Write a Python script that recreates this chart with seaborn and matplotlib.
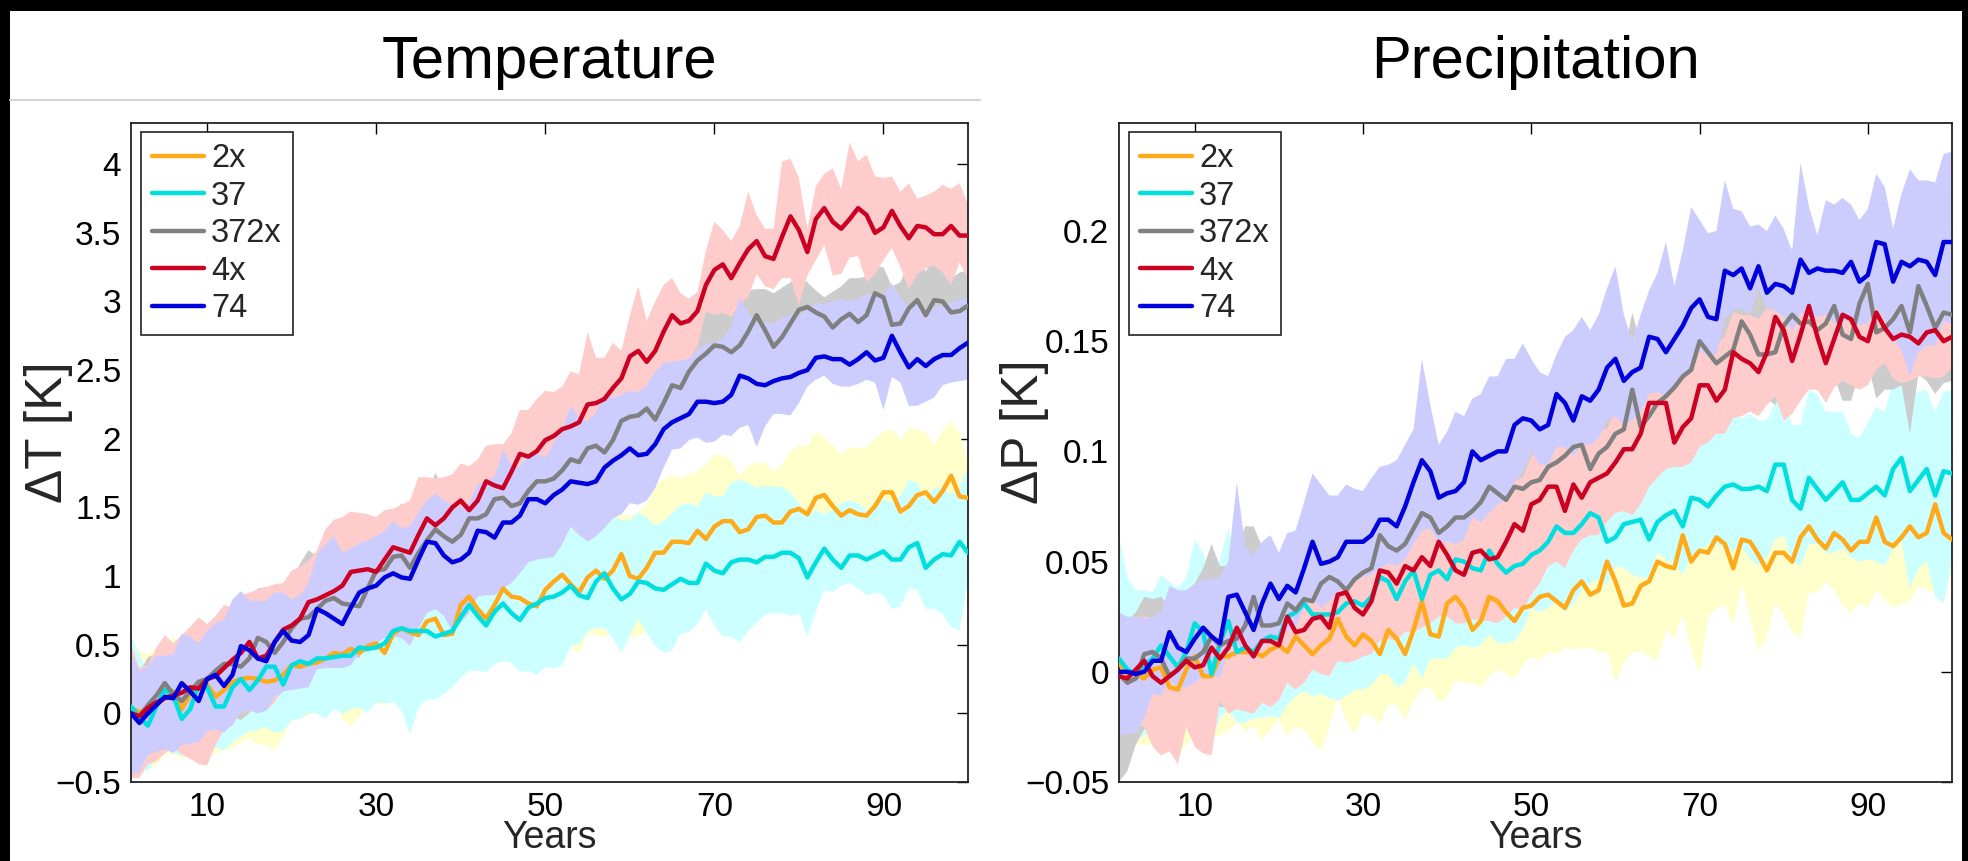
import numpy as np
import pandas as pd
import matplotlib
matplotlib.use("Agg")
import matplotlib.pyplot as plt
from matplotlib.patches import Rectangle
from matplotlib.lines import Line2D
import seaborn as sns

# ---------------------------------------------------------------- data
years = list(range(1, 101))
scenarios = ["2x", "37", "372x", "4x", "74"]
line_colors = {"2x": "#FFAA1A", "37": "#00DEDE", "372x": "#808080",
               "4x": "#CC0022", "74": "#0000DD"}
band_colors = {"2x": "#FFFFCC", "37": "#CCFFFF", "372x": "#CCCCCC",
               "4x": "#FFCCCC", "74": "#CCCCFF"}

# Temperature ensemble means, units of 0.01 K
T_2x = [4,1,3,6,11,16,3,14,22,21, 12,17,23,25,26,25,23,24,28,35,
        34,36,37,40,44,43,47,44,49,51, 44,58,62,59,57,67,69,57,58,79,
        85,76,69,79,91,85,84,80,78,90, 96,101,94,88,99,104,98,104,116,100,
        98,106,117,117,125,125,124,133,127,136, 140,140,132,134,143,144,139,139,147,149,
        145,157,159,151,144,148,145,144,151,161, 161,147,151,159,161,154,162,173,158,157]
T_37 = [5,-3,-9,5,17,13,-4,3,21,19, 5,5,19,25,17,24,34,34,21,35,
        38,36,40,40,41,42,42,48,47,48, 51,60,62,60,60,60,56,58,60,70,
        79,71,64,74,80,73,68,77,80,84, 85,88,93,86,84,96,102,91,83,87,
        96,95,91,90,94,98,95,95,109,104, 102,110,112,112,110,114,114,117,117,113,
        99,110,120,112,106,115,115,112,115,118, 112,112,121,124,106,112,116,115,125,117]
T_372x = [0,-2,6,13,22,14,9,16,23,25, 31,36,36,34,40,55,52,44,52,62,
          69,70,76,82,84,80,79,78,91,104, 105,114,115,106,117,126,134,129,125,130,
          142,142,145,156,157,151,153,162,169,169, 171,177,185,183,193,195,190,199,213,216,
          217,222,214,226,239,237,249,257,262,268, 267,263,268,278,290,279,267,274,284,294,
          296,292,289,281,287,291,285,290,306,303, 283,284,295,301,290,301,300,292,293,297]
T_4x = [0,-2,4,8,11,13,15,19,18,25, 27,33,39,44,52,40,42,52,61,64,
        69,81,83,86,89,93,103,104,105,103, 112,121,119,117,130,142,137,142,150,155,
        148,155,169,166,164,176,189,187,191,199, 202,207,209,212,225,226,229,237,244,260,
        264,256,264,278,290,284,286,293,312,323, 327,317,328,338,344,333,331,347,362,352,
        336,360,368,358,353,360,368,363,350,354, 366,355,346,355,354,349,349,355,348,348]
T_74 = [0,-7,0,6,12,11,22,16,9,25, 28,20,28,49,46,40,38,52,60,53,
        52,57,76,73,69,65,77,88,91,93, 99,102,99,98,112,125,124,115,110,112,
        117,133,132,128,139,139,144,156,156,153, 159,163,169,168,167,169,179,184,188,193,
        188,189,196,207,212,215,218,227,227,226, 227,232,246,244,240,239,242,244,245,248,
        250,259,260,258,258,254,258,263,257,259, 275,263,252,258,253,258,261,261,266,270]

# Temperature spread above (hi) / below (lo) the mean, units of 0.01 K
TH_2x = [49,45,40,42,38,40,44,42,38,40, 44,46,42,40,44,46,48,44,42,40,
         44,46,48,50,46,44,42,46,48,44, 50,46,44,48,52,50,46,54,56,48,
         44,50,56,52,48,54,56,52,58,50, 46,44,48,46,37,42,46,40,29,44,
         48,46,50,53,48,46,50,44,54,53, 48,44,41,46,40,38,37,42,44,46,
         50,48,42,44,45,46,48,50,49,44, 46,52,57,48,44,41,44,40,47,23]
TL_2x = [45,40,42,44,40,46,36,44,48,46, 42,44,48,46,44,48,46,51,45,40,
         36,38,34,36,31,48,56,46,42,44, 38,46,42,39,44,46,50,42,40,48,
         50,44,38,42,46,40,38,44,50,46, 44,42,46,44,40,47,43,41,48,45,
         42,47,44,40,46,43,41,47,44,42, 48,44,40,46,45,41,47,43,40,46,
         44,41,47,43,40,46,44,41,47,43, 40,46,44,42,47,43,41,46,44,42]
TH_37 = [52,46,40,36,30,34,40,38,32,34, 40,42,36,34,38,40,36,38,42,40,
         36,40,44,48,50,52,56,48,44,42, 40,38,40,42,44,40,42,44,42,40,
         40,42,46,40,38,42,40,38,40,42, 40,42,43,48,50,46,44,52,58,54,
         50,48,46,50,52,54,58,56,52,54, 56,58,58,56,54,52,51,48,44,40,
         46,38,25,36,47,40,38,36,35,38, 42,46,49,44,50,52,48,44,40,63]
TL_37 = [30,32,34,36,40,42,27,34,44,38, 30,32,40,42,30,36,44,48,34,40,
         42,36,40,44,38,42,39,44,46,40, 44,52,60,75,56,50,46,44,41,44,
         48,40,34,38,42,36,38,46,52,50, 52,53,44,36,24,34,40,36,39,30,
         27,36,42,46,48,40,36,30,33,40, 46,54,60,52,44,42,41,44,46,40,
         43,36,30,24,13,20,24,26,27,32, 36,34,30,34,30,36,44,52,65,19]
TH_372x = [30,32,35,30,28,36,40,34,30,32, 36,30,34,38,44,36,40,42,36,34,
           40,49,38,34,36,40,44,38,34,30, 36,32,38,40,36,34,41,36,30,34,
           32,30,34,30,28,32,30,28,30,32, 30,28,26,30,28,26,30,28,24,26,
           28,26,30,28,22,24,20,26,31,28, 34,36,38,30,19,30,39,36,30,25,
           18,16,14,26,24,26,32,28,19,22, 28,30,33,33,32,30,24,25,28,26]
TL_372x = [35,38,34,40,36,38,34,36,40,38, 42,40,38,39,40,36,38,34,36,40,
           42,45,40,38,36,34,36,38,34,36, 32,34,36,30,32,34,36,30,32,30,
           34,32,30,28,30,32,28,30,28,30, 32,28,30,26,28,30,26,28,30,28,
           26,30,28,26,28,30,26,24,26,28, 24,26,22,24,28,26,22,24,26,28,
           24,22,20,24,26,22,24,20,26,24, 22,26,24,22,26,24,28,22,24,26]
TH_4x = [50,35,31,40,46,38,42,44,52,40, 44,46,38,42,36,50,50,42,34,40,
         38,30,36,48,52,50,44,42,40,40, 36,28,33,38,42,30,34,30,24,27,
         32,30,26,30,32,28,32,34,38,36, 32,31,40,35,53,33,30,33,20,30,
         47,30,36,34,27,22,16,14,25,35, 25,27,27,42,19,20,22,55,42,38,
         17,24,25,39,29,56,34,44,41,36, 25,25,40,20,23,31,36,27,38,23]
TL_4x = [47,45,41,43,40,38,45,52,55,63, 50,45,48,42,50,38,40,44,42,38,
         40,44,40,38,42,40,44,38,36,40, 42,38,36,40,38,42,35,38,40,36,
         34,38,40,36,34,38,40,36,34,38, 35,33,36,32,38,34,30,33,35,38,
         36,30,32,35,38,30,28,26,19,33, 35,28,30,35,24,22,22,30,45,55,
         17,30,27,39,33,28,35,49,30,24, 27,30,37,35,30,23,28,43,20,31]
TH_74 = [44,38,34,36,30,32,36,40,42,35, 38,48,55,40,36,42,44,36,28,30,
         34,38,40,50,60,52,43,36,35,36, 34,38,36,38,34,30,36,40,42,38,
         36,34,38,44,53,42,36,32,34,33, 38,44,55,48,46,50,54,46,44,42,
         46,50,53,48,44,42,40,38,42,44, 46,50,57,48,44,46,42,44,45,42,
         44,40,38,42,44,46,44,42,49,46, 38,40,44,42,40,38,36,38,35,33]
TL_74 = [44,36,30,34,38,40,45,38,30,38, 40,34,36,48,44,40,36,40,44,36,
         34,38,44,40,36,32,42,44,46,42, 44,46,44,49,50,52,48,44,50,46,
         44,48,46,42,48,44,42,46,44,40, 45,40,33,38,42,40,44,42,43,40,
         36,34,32,28,20,22,19,26,30,28, 24,30,38,34,46,30,24,26,28,22,
         12,16,14,18,20,16,18,20,16,38, 30,22,28,34,26,28,22,20,24,27]

# Precipitation ensemble means, units of 0.001
P_2x = [4,-1,-1,-3,1,2,-7,-8,1,7, -2,-2,7,7,9,9,9,7,10,12,
        9,16,12,8,12,15,24,16,12,17, 14,8,19,15,8,19,32,17,16,31,
        34,29,19,23,34,32,27,23,29,30, 34,35,32,29,37,41,35,37,50,41,
        30,31,39,41,50,48,47,62,50,55, 54,61,58,47,60,59,53,46,54,54,
        50,61,66,60,56,63,60,55,59,59, 70,59,57,61,66,61,63,76,63,60]
P_37 = [6,1,-1,3,6,12,7,2,9,22, 18,-1,13,23,9,11,9,14,16,15,
        25,27,31,26,26,26,27,31,32,30, 34,43,41,33,41,46,33,44,46,42,
        51,50,47,46,55,49,45,48,49,53, 55,59,66,63,63,67,72,70,59,61,
        67,68,69,60,68,71,73,66,79,78, 75,80,84,85,83,83,84,82,94,94,
        78,74,88,83,78,82,86,78,78,81, 84,80,92,97,82,87,92,80,91,90]
P_372x = [-1,-5,-3,8,9,6,-2,1,6,6, 9,16,12,14,15,21,34,21,21,22,
          31,28,33,32,40,43,41,37,42,45, 47,62,57,55,58,65,72,70,63,66,
          70,70,73,77,84,81,78,84,83,86, 87,93,95,98,102,103,92,99,102,108,
          110,128,111,116,122,125,129,134,137,150, 145,140,143,146,159,153,144,144,145,157,
          162,158,159,155,158,166,153,151,167,176, 154,156,160,166,154,175,166,156,163,162]
P_4x = [-2,-3,1,5,-2,-5,-2,1,5,2, 3,11,6,11,20,12,7,14,14,12,
        25,18,19,24,25,20,35,36,29,26, 32,46,45,40,48,46,52,48,59,53,
        46,44,54,55,51,52,59,67,64,76, 78,84,84,73,85,79,86,88,90,95,
        101,101,108,122,122,122,104,111,115,130, 130,123,128,145,142,140,136,145,161,155,
        141,153,166,152,140,151,162,160,152,150, 163,156,151,153,152,149,154,155,150,152]
P_74 = [0,0,-1,0,5,5,18,11,9,15, 20,16,13,34,35,27,19,31,40,33,
        39,36,47,59,49,50,52,59,59,59, 62,69,69,66,75,86,96,91,79,81,
        82,86,100,96,98,100,100,112,115,114, 110,112,126,122,114,125,123,128,138,142,
        132,136,138,152,151,145,151,157,165,169, 161,160,182,180,183,174,184,172,176,175,
        172,187,181,183,182,182,181,186,177,180, 195,194,177,186,184,187,186,180,195,195]

# Precipitation spread above (hi) / below (lo) the mean, units of 0.001
PH_2x = [30,32,34,30,28,30,34,36,32,30, 34,36,32,30,34,32,30,34,36,32,
         30,34,36,38,34,32,30,34,36,32, 34,38,34,32,36,34,30,34,36,32,
         30,34,38,36,32,34,36,38,34,32, 30,32,34,36,32,30,34,36,30,34,
         38,36,34,32,30,32,34,28,32,30, 32,30,32,36,30,32,34,36,32,34,
         36,32,30,32,34,32,34,36,34,32, 30,34,36,34,32,34,32,28,34,36]
PL_2x = [28,30,32,30,34,32,28,30,34,36, 32,27,36,34,32,36,34,38,36,34,
         38,41,38,40,48,40,36,38,40,36, 34,32,34,30,30,32,40,24,30,42,
         38,34,24,30,36,31,28,26,26,23, 29,26,24,18,27,30,24,28,41,46,
         26,22,30,34,45,29,32,36,40,56, 30,32,28,26,21,34,44,30,23,28,
         32,45,30,24,15,26,30,28,28,30, 33,26,28,30,34,22,26,40,32,13]
PH_37 = [56,42,38,34,30,32,34,36,34,38, 36,40,38,42,40,36,38,34,36,32,
         35,38,43,46,50,52,44,40,38,36, 34,36,38,40,36,34,38,36,34,36,
         38,34,36,38,34,36,38,34,32,31, 34,30,28,30,27,32,36,34,39,40,
         38,36,40,42,44,42,45,40,38,36, 38,34,34,36,32,34,30,32,28,30,
         34,38,40,43,40,36,32,30,28,32, 36,38,40,42,44,40,36,38,36,38]
PL_37 = [30,28,30,32,30,34,32,30,34,38, 36,30,34,40,32,34,30,35,36,36,
         40,38,40,37,36,38,40,42,40,38, 40,44,42,40,46,42,36,38,40,36,
         40,38,36,34,38,36,32,34,30,24, 28,30,34,36,32,30,32,28,20,13,
         20,24,26,18,14,20,24,22,26,24, 17,22,28,30,26,32,36,30,34,32,
         28,26,30,25,24,28,30,26,28,30, 34,32,36,38,44,40,42,46,60,40]
PH_372x = [25,28,30,26,24,28,32,30,28,34, 38,42,36,34,40,45,32,36,34,30,
           28,30,32,34,30,28,32,34,30,28, 32,26,30,32,28,30,26,28,32,30,
           34,36,38,38,32,30,34,32,30,28, 30,28,32,30,28,32,36,34,30,32,
           34,35,38,34,32,30,34,36,32,30, 34,36,32,30,28,32,36,34,32,33,
           30,32,34,36,38,39,36,34,30,26, 32,34,30,28,34,30,32,34,30,32]
PL_372x = [49,40,30,34,32,30,26,28,30,32, 30,34,28,30,32,34,36,26,24,22,
           28,26,30,28,32,30,28,26,30,32, 30,34,30,28,30,32,34,30,28,30,
           32,30,28,30,34,32,30,28,30,32, 30,28,30,32,34,30,26,28,30,32,
           30,38,30,28,30,32,30,28,26,30, 32,28,26,24,30,26,16,20,24,28,
           30,28,29,26,28,32,30,28,32,36, 30,28,32,36,46,40,34,30,32,30]
PH_4x = [20,22,24,20,26,28,24,22,26,24, 28,24,26,22,20,26,28,24,26,30,
         24,28,26,24,28,30,22,24,28,30, 26,20,22,26,24,26,22,26,20,24,
         30,32,26,24,28,26,22,20,24,22, 24,20,22,30,24,28,24,22,20,24,
         22,20,22,18,20,22,30,26,24,20, 22,26,24,18,20,22,24,20,14,12,
         22,18,12,20,26,20,14,16,20,22, 8,16,20,18,20,22,18,16,20,18]
PL_4x = [20,22,25,30,32,33,34,43,30,36, 40,49,19,30,37,30,26,28,30,25,
         30,26,24,23,26,22,30,32,24,19, 24,32,30,26,30,28,32,26,34,28,
         24,22,30,32,28,30,34,38,36,41, 38,36,34,26,30,19,24,26,22,23,
         28,30,32,38,34,30,11,18,20,28, 26,15,20,30,26,22,20,24,36,41,
         24,30,38,24,18,22,30,30,24,20, 26,16,18,22,20,15,20,22,16,14]
PH_74 = [27,25,26,24,20,22,21,26,28,25, 22,26,30,16,51,30,34,28,22,21,
         24,28,30,31,36,30,28,26,24,23, 26,24,25,30,28,24,46,30,24,28,
         36,30,24,30,36,34,42,30,34,28, 26,22,18,30,41,36,32,34,36,42,
         30,14,24,21,30,50,24,34,46,36, 38,40,41,30,26,28,19,28,31,26,
         19,44,30,15,32,30,34,26,28,30, 31,26,24,31,44,36,37,42,40,41]
PL_74 = [29,28,27,21,15,16,22,18,16,20, 22,18,16,24,22,18,14,20,24,18,
         20,16,18,26,20,18,16,20,18,16, 18,22,20,18,24,28,32,26,20,22,
         24,26,30,28,26,24,22,26,24,14, 16,18,24,20,16,22,20,22,24,26,
         20,22,20,26,24,20,22,24,26,23, 18,16,22,16,18,12,10,7,12,14,
         18,24,20,22,20,24,22,26,20,22, 30,34,26,40,50,42,38,32,36,37]

temp_mean = {"2x": T_2x, "37": T_37, "372x": T_372x, "4x": T_4x, "74": T_74}
temp_hi = {"2x": TH_2x, "37": TH_37, "372x": TH_372x, "4x": TH_4x, "74": TH_74}
temp_lo = {"2x": TL_2x, "37": TL_37, "372x": TL_372x, "4x": TL_4x, "74": TL_74}
prec_mean = {"2x": P_2x, "37": P_37, "372x": P_372x, "4x": P_4x, "74": P_74}
prec_hi = {"2x": PH_2x, "37": PH_37, "372x": PH_372x, "4x": PH_4x, "74": PH_74}
prec_lo = {"2x": PL_2x, "37": PL_37, "372x": PL_372x, "4x": PL_4x, "74": PL_74}

temp_yticks = [-0.5, 0, 0.5, 1, 1.5, 2, 2.5, 3, 3.5, 4]
temp_yticklabels = ["\u22120.5", "0", "0.5", "1", "1.5", "2", "2.5", "3", "3.5", "4"]
prec_yticks = [-0.05, 0, 0.05, 0.1, 0.15, 0.2]
prec_yticklabels = ["\u22120.05", "0", "0.05", "0.1", "0.15", "0.2"]
xticks = [10, 30, 50, 70, 90]

# ---------------------------------------------------------------- style
sns.set_theme(style="white")
plt.rcParams["font.family"] = ["Liberation Sans", "DejaVu Sans"]
plt.rcParams["axes.unicode_minus"] = True

W, H = 1968, 861
fig = plt.figure(figsize=(W / 100, H / 100), dpi=100, facecolor="black")

# one white sheet on a black page, gray rule under the left title
fig.patches.append(Rectangle((10 / W, 0), (1962 - 10) / W, (H - 11) / H,
                             transform=fig.transFigure, facecolor="white",
                             edgecolor="none", zorder=-5))
fig.lines.append(Line2D([10 / W, 980 / W], [1 - 100 / H, 1 - 100 / H],
                        transform=fig.transFigure, color="#d4d4d4", lw=1.5))

ax1 = fig.add_axes([131 / W, 1 - 782 / H, 837 / W, 659 / H])
ax2 = fig.add_axes([1119 / W, 1 - 782 / H, 833 / W, 659 / H])


def draw(ax, means, his, los, scale, ylim, yticks, yticklabels, ylabel, lab_xy):
    for i, s in enumerate(scenarios):
        m = np.asarray(means[s], float) * scale
        lo = m - np.asarray(los[s], float) * scale
        hi = m + np.asarray(his[s], float) * scale
        ax.fill_between(years, lo, hi, color=band_colors[s], lw=0,
                        edgecolor="none", zorder=1 + i * 0.01)
    rows = [(y, v * scale, s) for s in scenarios for y, v in zip(years, means[s])]
    df = pd.DataFrame(rows, columns=["Year", "Value", "Scenario"])
    sns.lineplot(data=df, x="Year", y="Value", hue="Scenario",
                 hue_order=scenarios, palette=line_colors, lw=3.2,
                 estimator=None, legend=False, ax=ax, zorder=3)
    ax.set_xlim(1, 100)
    ax.set_ylim(*ylim)
    ax.set_xticks(xticks)
    ax.set_xticklabels([str(t) for t in xticks])
    ax.set_yticks(yticks)
    ax.set_yticklabels(yticklabels)
    ax.tick_params(direction="in", length=8, width=1.0, top=True, right=True,
                   labelsize=24, pad=7, colors="black")
    for sp in ax.spines.values():
        sp.set_color("#222222")
        sp.set_linewidth(1.3)
    ax.set_facecolor("white")
    ax.set_xlabel("Years", fontsize=27)
    ax.xaxis.set_label_coords(0.5, -(838 - 782) / 659)
    ax.xaxis.label.set_va("center")
    ax.set_ylabel(ylabel, fontsize=37)
    ax.yaxis.set_label_coords(*lab_xy)
    ax.yaxis.label.set_va("center")
    handles = [Line2D([0], [0], color=line_colors[s], lw=3.2) for s in scenarios]
    leg = ax.legend(handles, scenarios, loc="upper left",
                    bbox_to_anchor=(0.012, 0.986), borderaxespad=0,
                    frameon=True, fancybox=False, fontsize=23.5,
                    handlelength=1.6, handletextpad=0.22,
                    labelspacing=0.2, borderpad=0.33)
    leg.get_frame().set_edgecolor("#222222")
    leg.get_frame().set_linewidth(1.2)
    leg.get_frame().set_facecolor("white")
    leg.get_frame().set_alpha(1)
    leg.set_zorder(10)


draw(ax1, temp_mean, temp_hi, temp_lo, 0.01, (-0.5, 4.3),
     temp_yticks, temp_yticklabels, "\u0394T [K]", (-0.098, 0.531))
draw(ax2, prec_mean, prec_hi, prec_lo, 0.001, (-0.05, 0.249),
     prec_yticks, prec_yticklabels, "\u0394P [K]", (-0.113, 0.531))

fig.text(549.5 / W, 1 - 78 / H, "Temperature", ha="center", va="baseline",
         fontsize=43, color="black")
fig.text(1535.5 / W, 1 - 78 / H, "Precipitation", ha="center", va="baseline",
         fontsize=43, color="black")

fig.savefig("out.png", dpi=100, facecolor="black")
